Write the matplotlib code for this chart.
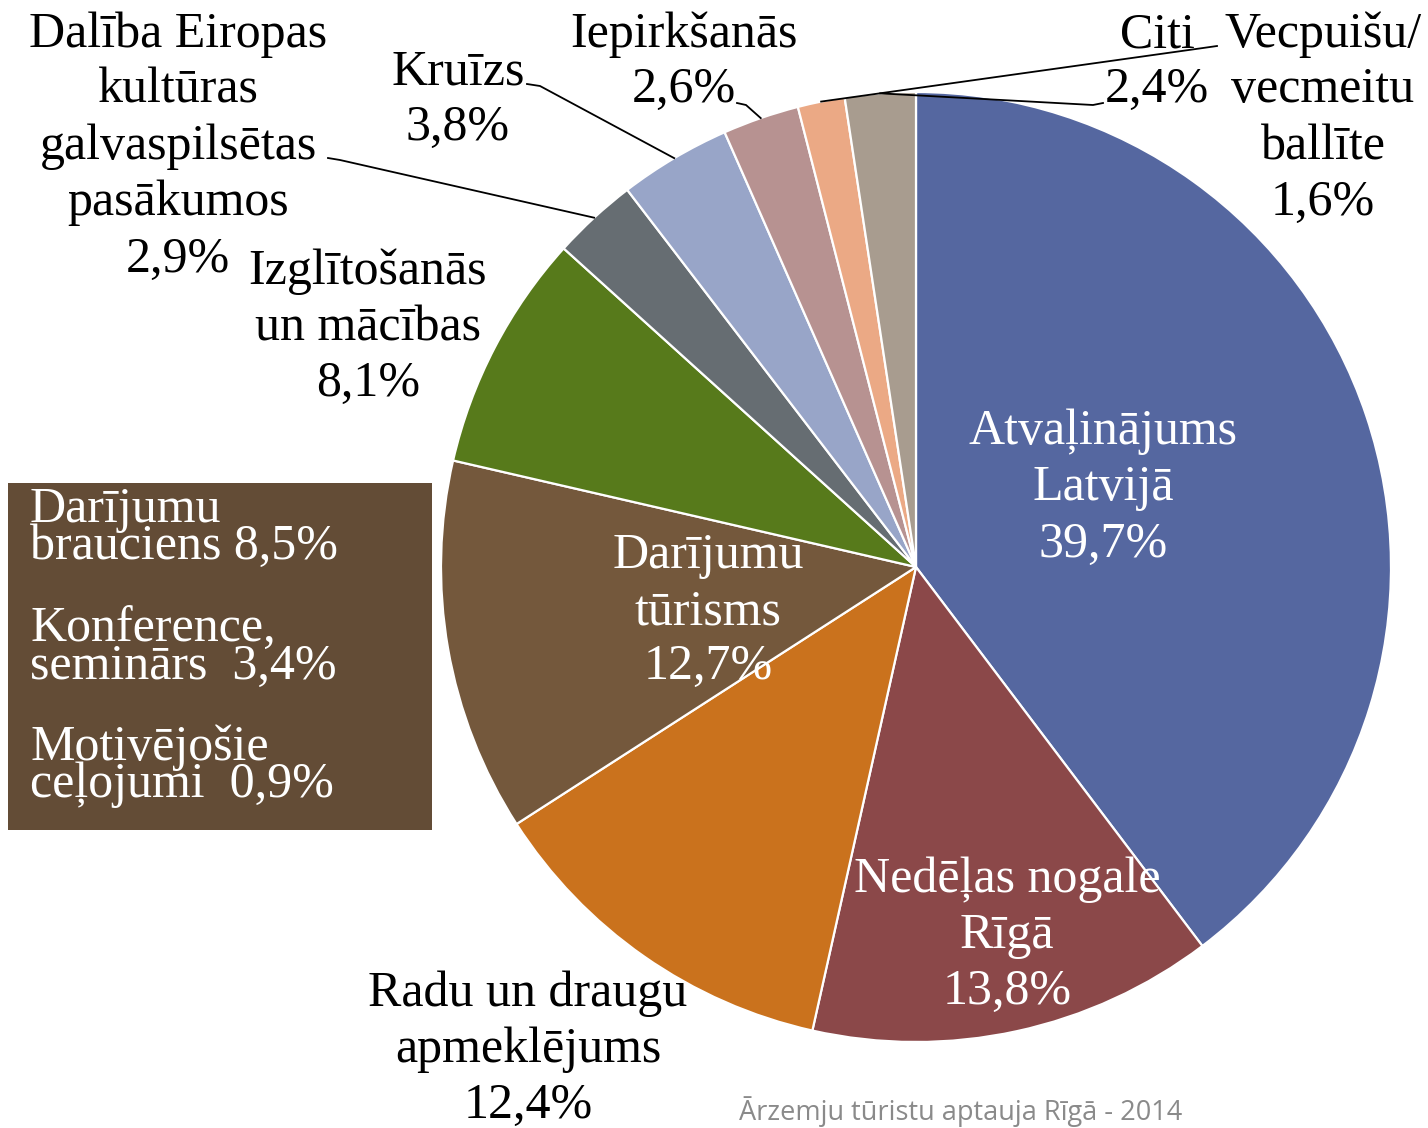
import numpy as np
import matplotlib
matplotlib.use('Agg')
import matplotlib.pyplot as plt
from matplotlib.patches import Rectangle

# shares of trip purposes, clockwise from 12 o'clock
categories = ['Atvaļinājums Latvijā', 'Nedēļas nogale Rīgā', 'Radu un draugu apmeklējums',
              'Darījumu tūrisms', 'Izglītošanās un mācības',
              'Dalība Eiropas kultūras galvaspilsētas pasākumos', 'Kruīzs',
              'Iepirkšanās', 'Vecpuišu/vecmeitu ballīte', 'Citi']
values = [39.7, 13.8, 12.4, 12.7, 8.1, 2.9, 3.8, 2.6, 1.6, 2.4]
value_labels = ['39,7%', '13,8%', '12,4%', '12,7%', '8,1%', '2,9%', '3,8%', '2,6%', '1,6%', '2,4%']
colors = ['#5567A0', '#8B4849', '#CA721D', '#74583C', '#577A1B',
          '#666D72', '#98A5C8', '#B79291', '#EBA985', '#A89C8F']

# business tourism breakdown (box on the left)
business_lines = ['Darījumu\nbrauciens 8,5%',
                  'Konference,\nseminārs  3,4%',
                  'Motivējošie\nceļojumi  0,9%']

footer = 'Ārzemju tūristu aptauja Rīgā - 2014'

W, H = 1428, 1128
CX, CY, R = 916, 567, 475
SERIF = 'Liberation Serif'
FS = 36

fig = plt.figure(figsize=(W / 100, H / 100), dpi=100)
ax = fig.add_axes([0, 0, 1, 1])

# y axis is inverted below, so start at -90 and go counterclockwise in data = clockwise on screen
ax.pie(values, colors=colors, startangle=-90, counterclock=True,
       center=(CX, CY), radius=R,
       wedgeprops=dict(edgecolor='white', linewidth=1.6))
ax.set_xlim(0, W)
ax.set_ylim(H, 0)
ax.set_aspect('equal')
ax.set_axis_off()

cum = np.cumsum(values)
mid = cum - np.array(values) / 2


def edge_point(i):
    ang = np.deg2rad(-90 + 360 * mid[i] / 100)
    return CX + R * np.cos(ang), CY + R * np.sin(ang)


def stack(lines, x, ys, color='black', ha='center', fs=FS):
    for s, y in zip(lines, ys):
        ax.text(x, y, s, ha=ha, va='center', fontsize=fs, color=color, family=SERIF)


def leader(i, x0, y0, dx):
    px, py = edge_point(i)
    ax.plot([x0, x0 + dx, px], [y0, y0 + 2, py], color='black', lw=1.3)


# labels inside the pie
stack(['Atvaļinājums', 'Latvijā', value_labels[0]], 1103, [432, 488, 545], color='white')
stack(['Nedēļas nogale', 'Rīgā', value_labels[1]], 1007, [880, 936, 992], color='white')
stack(['Darījumu', 'tūrisms', value_labels[3]], 708, [556, 612, 667], color='white')

# labels outside
stack(['Radu un draugu', 'apmeklējums', value_labels[2]], 528, [994, 1050, 1106])
stack(['Izglītošanās', 'un mācības', value_labels[4]], 368, [272, 328, 384])
stack(['Dalība Eiropas', 'kultūras', 'galvaspilsētas', 'pasākumos', value_labels[5]],
      178, [35, 90, 147, 203, 260])
stack(['Kruīzs', value_labels[6]], 458, [72, 128])
stack(['Iepirkšanās', value_labels[7]], 684, [35, 90])
stack(['Vecpuišu/', 'vecmeitu', 'ballīte', value_labels[8]], 1323, [35, 90, 147, 203])
stack(['Citi', value_labels[9]], 1157, [35, 90])

leader(5, 328, 158, 12)
leader(6, 527, 84, 13)
leader(7, 737, 103, 9)
leader(8, 1217, 46, -14)
leader(9, 1103, 103, -10)

# box with business tourism breakdown
ax.add_patch(Rectangle((8, 483), 424, 347, facecolor='#634C36', edgecolor='none', zorder=3))
for s, y in zip(business_lines, [528, 648, 766]):
    ax.text(30, y, s, ha='left', va='center', fontsize=FS, color='white',
            family=SERIF, linespacing=0.72, zorder=4)

ax.text(961, 1112, footer, ha='center', va='center', fontsize=19.5,
        color='#8A8A8A', family='Open Sans')

fig.savefig('out.png', dpi=100, facecolor='white')
